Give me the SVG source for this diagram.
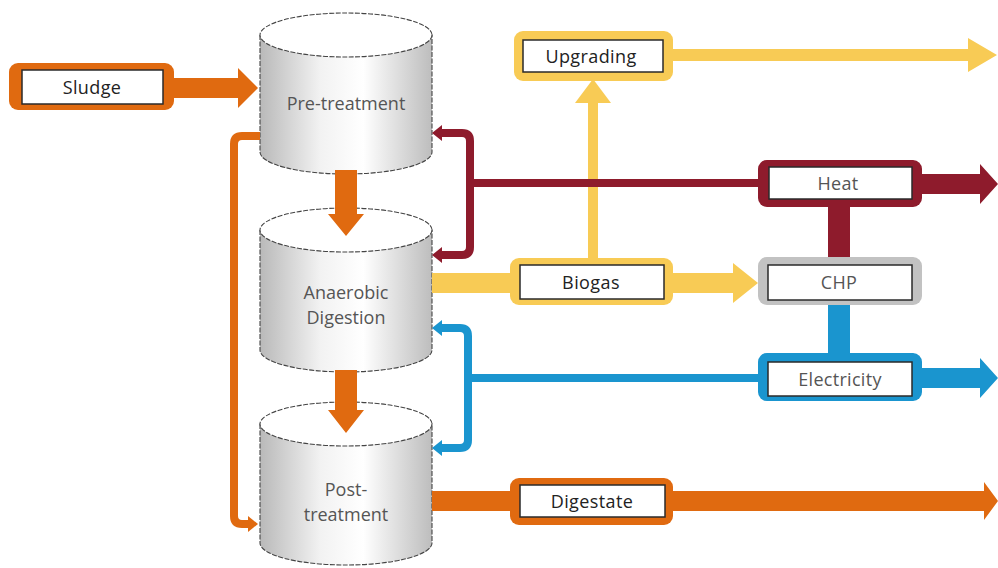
<svg xmlns="http://www.w3.org/2000/svg" width="998" height="568" viewBox="0 0 998 568">
  <defs>
    <linearGradient id="tank" x1="0" y1="0" x2="1" y2="0">
      <stop offset="0" stop-color="#b9b9b9"/>
      <stop offset="0.35" stop-color="#f2f2f2"/>
      <stop offset="0.6" stop-color="#ffffff"/>
      <stop offset="1" stop-color="#bdbdbd"/>
    </linearGradient>
    <marker id="headRed" viewBox="0 0 10 16" refX="0" refY="8" markerWidth="10" markerHeight="16" markerUnits="userSpaceOnUse" orient="auto">
      <path d="M0,0 L10,8 L0,16 Z" fill="#8e1b2c"/>
    </marker>
    <marker id="headBlue" viewBox="0 0 10 16" refX="0" refY="8" markerWidth="10" markerHeight="16" markerUnits="userSpaceOnUse" orient="auto">
      <path d="M0,0 L10,8 L0,16 Z" fill="#1a95cf"/>
    </marker>
    <marker id="headOrange" viewBox="0 0 10 16" refX="0" refY="8" markerWidth="10" markerHeight="16" markerUnits="userSpaceOnUse" orient="auto">
      <path d="M0,0 L10,8 L0,16 Z" fill="#e06a10"/>
    </marker>
  </defs>
  <style>
    .tank { fill: url(#tank); stroke: #444; stroke-width: 1.1; stroke-dasharray: 5 1.5; }
    .lid { fill: #ffffff; stroke: #444; stroke-width: 1.1; stroke-dasharray: 5 1.5; }
    .tankText { font-family: "Open Sans", "DejaVu Sans", sans-serif; font-size: 18px; fill: #555; text-anchor: middle; }
    .inner { fill: #ffffff; stroke: #2a2a2a; stroke-width: 1.5; }
    .lbl { font-family: "Open Sans", "DejaVu Sans", sans-serif; font-size: 18px; letter-spacing: 0.4px; fill: #222; text-anchor: middle; dominant-baseline: central; }
    .lblGrey { font-family: "Open Sans", "DejaVu Sans", sans-serif; font-size: 18px; letter-spacing: 0.3px; fill: #555; text-anchor: middle; dominant-baseline: central; }
    .orange { fill: #e06a10; }
    .red { fill: #8e1b2c; }
    .yellow { fill: #f8cb55; }
    .blue { fill: #1a95cf; }
    .grey { fill: #c2c2c2; }
    .thin { fill: none; stroke-width: 8; stroke-linejoin: round; }
  </style>

  <rect width="998" height="568" fill="#ffffff"/>

  <!-- process tanks -->
  <g id="pre-treatment">
    <path class="tank" d="M260,35 L260,152 A86,22 0 0 0 432,152 L432,35 Z"/>
    <ellipse class="lid" cx="346" cy="35" rx="86" ry="22"/>
    <text class="tankText" x="346" y="110">Pre-treatment</text>
  </g>
  <g id="anaerobic-digestion">
    <path class="tank" d="M260,230 L260,350 A86,22 0 0 0 432,350 L432,230 Z"/>
    <ellipse class="lid" cx="346" cy="230" rx="86" ry="22"/>
    <text class="tankText" x="346" y="299">Anaerobic</text>
    <text class="tankText" x="346" y="324">Digestion</text>
  </g>
  <g id="post-treatment">
    <path class="tank" d="M260,424 L260,543 A86,22 0 0 0 432,543 L432,424 Z"/>
    <ellipse class="lid" cx="346" cy="424" rx="86" ry="22"/>
    <text class="tankText" x="346" y="496">Post-</text>
    <text class="tankText" x="346" y="521">treatment</text>
  </g>

  <!-- flows -->
  <g id="connectors">
    <!-- sludge feed -->
    <polygon class="orange" points="170,78 238,78 238,68 258,88 238,108 238,98 170,98"/>
    <!-- tank to tank -->
    <polygon class="orange" points="335,170 357,170 357,214 364,214 346,236 328,214 335,214"/>
    <polygon class="orange" points="335,370 357,370 357,410 364,410 346,433 328,410 335,410"/>
    <!-- bypass from pre-treatment to post-treatment -->
    <path class="thin" stroke="#e06a10" d="M260,136 L242,136 Q234,136 234,144 L234,516 Q234,524 242,524 L248,524" marker-end="url(#headOrange)"/>

    <!-- biogas to CHP -->
    <polygon class="yellow" points="432,273 733,273 733,263 758,283 733,303 733,293 432,293"/>
    <!-- biogas up to upgrading -->
    <polygon class="yellow" points="588,262 588,103 575,103 593,79 611,103 598,103 598,262"/>
    <!-- upgraded gas out -->
    <polygon class="yellow" points="672,49 968,49 968,38 997,55 968,72 968,61 672,61"/>

    <!-- heat return to tanks -->
    <path class="thin" stroke="#8e1b2c" d="M760,183 L470,183"/>
    <path class="thin" stroke="#8e1b2c" d="M470,187 L470,141 Q470,133 462,133 L442,133" marker-end="url(#headRed)"/>
    <path class="thin" stroke="#8e1b2c" d="M470,179 L470,247 Q470,255 462,255 L442,255" marker-end="url(#headRed)"/>
    <!-- CHP to heat -->
    <rect class="red" x="828" y="205" width="22" height="55"/>
    <!-- heat out -->
    <polygon class="red" points="920,174 980,174 980,164 998,184 980,204 980,194 920,194"/>

    <!-- electricity return to tanks -->
    <path class="thin" stroke="#1a95cf" d="M760,378 L468,378"/>
    <path class="thin" stroke="#1a95cf" d="M468,382 L468,336 Q468,328 460,328 L442,328" marker-end="url(#headBlue)"/>
    <path class="thin" stroke="#1a95cf" d="M468,374 L468,440 Q468,448 460,448 L442,448" marker-end="url(#headBlue)"/>
    <!-- CHP to electricity -->
    <rect class="blue" x="828" y="303" width="22" height="52"/>
    <!-- electricity out -->
    <polygon class="blue" points="920,368 980,368 980,358 998,378 980,398 980,388 920,388"/>

    <!-- digestate out -->
    <polygon class="orange" points="432,491 984,491 984,482 998,501 984,520 984,511 432,511"/>
  </g>

  <!-- labelled boxes -->
  <g id="sludge">
    <rect class="orange" x="9" y="63" width="165" height="47" rx="9"/>
    <rect class="inner" x="22" y="70" width="141" height="34"/>
    <text class="lbl" x="92" y="87">Sludge</text>
  </g>
  <g id="upgrading">
    <rect class="yellow" x="514" y="31" width="159" height="50" rx="9"/>
    <rect class="inner" x="523" y="40" width="140" height="32"/>
    <text class="lbl" x="591" y="56">Upgrading</text>
  </g>
  <g id="biogas">
    <rect class="yellow" x="510" y="258" width="163" height="47" rx="9"/>
    <rect class="inner" x="520" y="265" width="144" height="34"/>
    <text class="lbl" x="591" y="282">Biogas</text>
  </g>
  <g id="heat">
    <rect class="red" x="758" y="160" width="164" height="47" rx="9"/>
    <rect class="inner" x="769" y="167" width="143" height="32"/>
    <text class="lblGrey" x="838" y="183">Heat</text>
  </g>
  <g id="chp">
    <rect class="grey" x="758" y="257" width="164" height="48" rx="9"/>
    <rect class="inner" x="768" y="265" width="144" height="35"/>
    <text class="lblGrey" x="839" y="282">CHP</text>
  </g>
  <g id="electricity">
    <rect class="blue" x="758" y="353" width="164" height="48" rx="9"/>
    <rect class="inner" x="768" y="362" width="144" height="34"/>
    <text class="lblGrey" x="840" y="379">Electricity</text>
  </g>
  <g id="digestate">
    <rect class="orange" x="510" y="478" width="163" height="47" rx="9"/>
    <rect class="inner" x="520" y="485" width="145" height="32"/>
    <text class="lbl" x="592" y="501">Digestate</text>
  </g>
</svg>
